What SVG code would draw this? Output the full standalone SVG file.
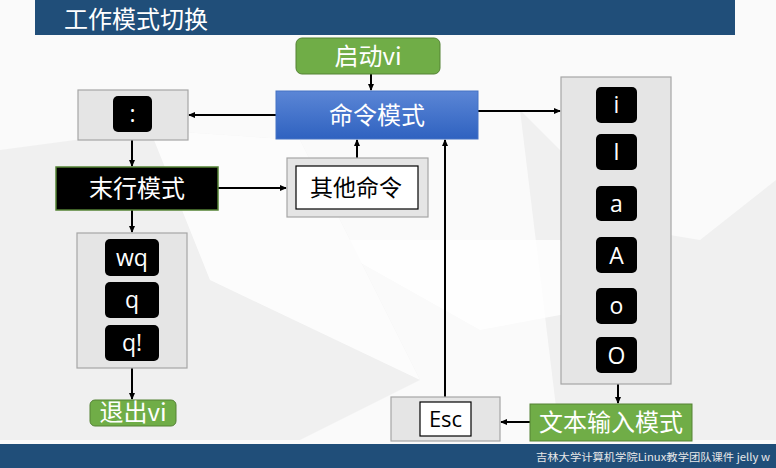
<svg xmlns="http://www.w3.org/2000/svg" width="776" height="468" viewBox="0 0 776 468">
<defs>
<style>
.t{font-family:"Noto Sans CJK SC","Liberation Sans",sans-serif;}
.gray{fill:#E5E5E5;stroke:#A6A6A6;stroke-width:1.2;}
.key{fill:#000;}
.kt{font-family:"Open Sans","Noto Sans","Liberation Sans",sans-serif;fill:#fff;font-size:23px;text-anchor:middle;}
.green{fill:#70AD47;stroke:#548235;stroke-width:1;}
.wt{fill:#fff;font-size:24px;text-anchor:middle;}
.conn{stroke:#000;stroke-width:2;fill:none;marker-end:url(#ah);}
</style>
<marker id="ah" markerWidth="8" markerHeight="8" refX="6" refY="4" orient="auto" markerUnits="userSpaceOnUse">
<path d="M0,1 L7,4 L0,7 Z" fill="#000"/>
</marker>
<linearGradient id="blue" x1="0" y1="0" x2="0" y2="1">
<stop offset="0" stop-color="#5B86D6"/>
<stop offset="1" stop-color="#2F62C0"/>
</linearGradient>
</defs>
<rect width="776" height="468" fill="#FAFAFA"/>
<g fill="#F0F0F0">
<polygon points="0,150 150,130 300,140 420,380 300,440 0,440"/>
<polygon points="520,110 640,230 700,240 776,180 776,440 560,440"/>
</g>
<g fill="#FFFFFF" opacity="0.8">
<polygon points="150,130 300,140 420,380 210,280"/>
<polygon points="320,240 560,240 640,300 480,330"/>
</g>
<rect x="35" y="0" width="700" height="35" fill="#204E79"/>
<text class="t" x="64" y="28" fill="#fff" font-size="24">工作模式切换</text>
<rect x="0" y="444" width="776" height="24" fill="#204E79"/>
<text class="t" x="536" y="461" fill="#E8E8E8" font-size="10.5" textLength="234" lengthAdjust="spacingAndGlyphs">吉林大学计算机学院Linux教学团队课件 jelly w</text>

<g id="connectors">
<line class="conn" x1="371" y1="74" x2="371" y2="90"/>
<line class="conn" x1="276" y1="115" x2="189" y2="115"/>
<line class="conn" x1="132" y1="140" x2="132" y2="166"/>
<line class="conn" x1="218" y1="188" x2="286" y2="188"/>
<line class="conn" x1="132" y1="210" x2="132" y2="232"/>
<line class="conn" x1="357" y1="158" x2="357" y2="140"/>
<line class="conn" x1="132" y1="368" x2="132" y2="399"/>
<line class="conn" x1="478" y1="111" x2="560" y2="111"/>
<line class="conn" x1="618" y1="384" x2="618" y2="403"/>
<line class="conn" x1="530" y1="422" x2="501" y2="422"/>
<line class="conn" x1="445" y1="397" x2="445" y2="140"/>
</g>

<g id="start">
<rect class="green" x="296" y="38" width="144" height="36" rx="6"/>
<text class="t wt" x="368" y="65">启动vi</text>
</g>
<g id="cmd">
<rect x="276" y="91" width="202" height="48" fill="url(#blue)" stroke="#4472C4"/>
<text class="t wt" x="377" y="124">命令模式</text>
</g>
<g id="colon">
<rect class="gray" x="78" y="90" width="110" height="50"/>
<rect class="key" x="113" y="96" width="39" height="36" rx="5"/>
<text class="kt" x="132.5" y="122">:</text>
</g>
<g id="lastline">
<rect x="56" y="167" width="162" height="43" fill="#000" stroke="#548235" stroke-width="1.5"/>
<text class="t wt" x="137" y="197">末行模式</text>
</g>
<g id="other">
<rect class="gray" x="287" y="158" width="141" height="59"/>
<rect x="296" y="166" width="122" height="43" fill="#fff" stroke="#000" stroke-width="1.2"/>
<text class="t" x="356" y="196" font-size="23" text-anchor="middle" fill="#000">其他命令</text>
</g>
<g id="quitkeys">
<rect class="gray" x="77" y="233" width="110" height="135"/>
<rect class="key" x="105" y="239" width="54" height="37" rx="5"/>
<text class="kt" x="132" y="266">wq</text>
<rect class="key" x="105" y="282" width="54" height="36" rx="5"/>
<text class="kt" x="132" y="308">q</text>
<rect class="key" x="105" y="325" width="54" height="36" rx="5"/>
<text class="kt" x="132" y="351">q!</text>
</g>
<g id="quit">
<rect class="green" x="90" y="400" width="86" height="26" rx="5"/>
<text class="t wt" x="133" y="421">退出vi</text>
</g>
<g id="insertkeys">
<rect class="gray" x="561" y="77" width="110" height="307"/>
<rect class="key" x="596" y="87" width="41" height="36" rx="5"/>
<text class="kt" x="616.5" y="113">i</text>
<rect class="key" x="596" y="134" width="41" height="36" rx="5"/>
<text class="kt" x="616.5" y="160">I</text>
<rect class="key" x="596" y="186" width="41" height="35" rx="5"/>
<text class="kt" x="616.5" y="212">a</text>
<rect class="key" x="596" y="237" width="41" height="36" rx="5"/>
<text class="kt" x="616.5" y="264">A</text>
<rect class="key" x="596" y="288" width="41" height="36" rx="5"/>
<text class="kt" x="616.5" y="314">o</text>
<rect class="key" x="596" y="337" width="41" height="36" rx="5"/>
<text class="kt" x="616.5" y="364">O</text>
</g>
<g id="insert">
<rect x="530" y="404" width="162" height="37" fill="#70AD47" stroke="#548235"/>
<text class="t wt" x="611" y="431">文本输入模式</text>
</g>
<g id="esc">
<rect class="gray" x="391" y="397" width="109" height="44"/>
<rect x="420" y="402" width="51" height="34" fill="#fff" stroke="#000" stroke-width="1.2"/>
<text x="445.5" y="427" font-family="Open Sans,Noto Sans,sans-serif" font-size="22" text-anchor="middle" fill="#000">Esc</text>
</g>
</svg>
